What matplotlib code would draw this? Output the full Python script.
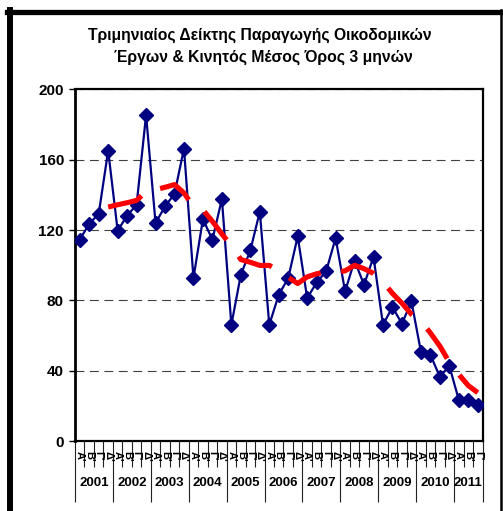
"""
Quarterly building construction index with 4-period moving average
"""

import matplotlib.pyplot as plt
import numpy as np
import pandas as pd
from matplotlib.lines import Line2D
from matplotlib.transforms import blended_transform_factory

# ---------------------------------------------------------------------
# Data
# ---------------------------------------------------------------------

YEARS = ["2001", "2002", "2003", "2004", "2005", "2006",
         "2007", "2008", "2009", "2010", "2011"]
QUARTERS = ["Α'", "Β'", "Γ'", "Δ'"]
QUARTERS_PER_YEAR = [4, 4, 4, 4, 4, 4, 4, 4, 4, 4, 3]

INDEX = [
    114.5, 123.6, 129.2, 165.2,   # 2001
    119.7, 128.2, 134.5, 185.4,   # 2002
    124.0, 133.5, 140.6, 166.4,   # 2003
    92.7, 126.3, 114.5, 137.7,    # 2004
    66.1, 94.6, 108.4, 130.5,     # 2005
    66.1, 83.2, 92.7, 116.4,      # 2006
    81.3, 90.2, 96.5, 115.5,      # 2007
    85.1, 102.7, 88.9, 104.7,     # 2008
    66.1, 76.2, 66.7, 79.4,       # 2009
    50.9, 49.0, 36.6, 42.7,       # 2010
    23.4, 23.4, 20.5,             # 2011
]

TITLE_1 = "Τριμηνιαίος Δείκτης Παραγωγής Οικοδομικών"
TITLE_2 = "Έργων & Κινητός Μέσος Όρος 3 μηνών"

plt.rcParams["font.family"] = ["Liberation Sans", "DejaVu Sans"]

# ---------------------------------------------------------------------
# Plot
# ---------------------------------------------------------------------

W, H = 503, 511
fig = plt.figure(figsize=(W / 100, H / 100), dpi=100)
ax = fig.add_axes([75 / W, 1 - 441 / H, (482.5 - 75) / W, (441 - 89.5) / H])

x = np.arange(len(INDEX))
moving_avg = pd.Series(INDEX).rolling(4).mean()

ax.plot(x, INDEX, color="#000080", lw=1.6, marker="D", ms=7,
        markeredgecolor="#000080", zorder=3)
ax.plot(x, moving_avg, color="#ff0000", lw=3.7, linestyle=(0, (7, 4)),
        dash_capstyle="butt", zorder=4)

ax.set_xlim(-0.5, len(INDEX) - 0.5)
ax.set_ylim(0, 200)
ax.set_yticks(np.arange(0, 201, 40))
ax.tick_params(axis="y", direction="out", length=4, width=1,
               labelsize=11, pad=4)
for lab in ax.get_yticklabels():
    lab.set_fontweight("bold")

ax.yaxis.grid(True, color="#404040", linestyle=(0, (8, 5)), lw=0.8)
ax.set_axisbelow(True)

for side in ["left", "bottom", "top", "right"]:
    ax.spines[side].set_color("black")
    ax.spines[side].set_linewidth(1.6)
ax.spines["left"].set_linewidth(2)

# category axis: quarter boundaries (short) and year boundaries (long)
bounds = np.arange(len(INDEX) + 1) - 0.5
year_bounds = np.concatenate([[-0.5], np.cumsum(QUARTERS_PER_YEAR) - 0.5])
ax.set_xticks(year_bounds)
ax.set_xticks(bounds, minor=True)
ax.set_xticklabels([])
ax.tick_params(axis="x", which="major", direction="out", length=44,
               width=0.8, color="#222222")
ax.tick_params(axis="x", which="minor", direction="out", length=19,
               width=0.8, color="#222222")

trans = blended_transform_factory(ax.transData, ax.transAxes)
ax_h = 441 - 89.5
pos = 0
for year, nq in zip(YEARS, QUARTERS_PER_YEAR):
    for q in range(nq):
        ax.text(pos + q, -15 / ax_h, QUARTERS[q], rotation=270,
                ha="center", va="center", fontsize=8, fontweight="bold",
                transform=trans)
    ax.text(pos + (nq - 1) / 2, -42 / ax_h, year, ha="center", va="center",
            fontsize=9.5, fontweight="bold", transform=trans)
    pos += nq

# title
fig.text(260 / W, 1 - 35 / H, TITLE_1, ha="center", va="center",
         fontsize=11.3, fontweight="bold")
fig.text(263 / W, 1 - 57 / H, TITLE_2, ha="center", va="center",
         fontsize=11.3, fontweight="bold")

# outer frame
fig.add_artist(Line2D([10 / W, 10 / W], [0, 1 - 10 / H], color="black",
                      lw=4.3, transform=fig.transFigure))
fig.add_artist(Line2D([7 / W, 501.5 / W], [1 - 12 / H, 1 - 12 / H],
                      color="black", lw=3.8, transform=fig.transFigure))
fig.add_artist(Line2D([500.5 / W, 500.5 / W], [0, 1 - 10 / H],
                      color="black", lw=1.8, transform=fig.transFigure))

fig.savefig("out.png", dpi=100)
